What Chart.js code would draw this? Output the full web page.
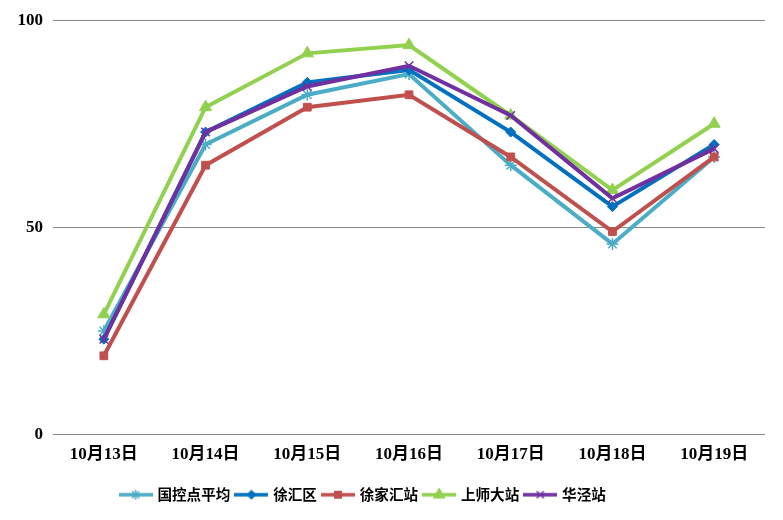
<!DOCTYPE html>
<html>
<head>
<meta charset="utf-8">
<script src="https://cdn.jsdelivr.net/npm/chart.js@4.4.1/dist/chart.umd.min.js"></script>
<style>
  html, body { margin: 0; padding: 0; background: #fff; }
  #wrap { width: 783px; height: 520px; }
</style>
</head>
<body>
<div id="wrap"><canvas id="chart" width="783" height="520"></canvas></div>
<script>
  const categories = ['10月13日', '10月14日', '10月15日', '10月16日', '10月17日', '10月18日', '10月19日'];
  const yTicks = [0, 50, 100];

  const guokong = [25, 70, 82, 87, 65, 46, 67];
  const xuhuiqu = [23, 73, 85, 88, 73, 55, 70];
  const xujiahui = [19, 65, 79, 82, 67, 49, 67];
  const shangshida = [29, 79, 92, 94, 77, 59, 75];
  const huajing = [23, 73, 84, 89, 77, 57, 69];

  const seriesNames = ['国控点平均', '徐汇区', '徐家汇站', '上师大站', '华泾站'];

  const labelFont = { family: "'Liberation Serif', 'Noto Sans CJK SC', serif", size: 17, weight: 'bold' };

  // little legend picture: line with marker in the middle
  function legendIcon(color, style, radius) {
    const c = document.createElement('canvas');
    c.width = 34;
    c.height = 14;
    const ctx = c.getContext('2d');
    ctx.strokeStyle = color;
    ctx.lineWidth = 3.5;
    ctx.beginPath();
    ctx.moveTo(0, 7);
    ctx.lineTo(34, 7);
    ctx.stroke();
    ctx.fillStyle = color;
    ctx.lineWidth = 1.5;
    Chart.helpers.drawPoint(ctx, { pointStyle: style, radius: radius, borderWidth: 1.5 }, 17, 7);
    if (style !== 'star' && style !== 'crossRot') ctx.fill();
    return c;
  }

  function makeSet(name, values, color, style, radius, order) {
    return {
      label: name,
      data: values,
      borderColor: color,
      backgroundColor: color,
      borderWidth: 4,
      pointStyle: style,
      pointRadius: radius,
      pointHoverRadius: radius,
      pointBorderWidth: style === 'star' || style === 'crossRot' ? 1.5 : 1,
      tension: 0,
      order: order,
      icon: legendIcon(color, style, radius - 1)
    };
  }

  const datasets = [
    makeSet(seriesNames[0], guokong, '#4BACC6', 'star', 6, 5),
    makeSet(seriesNames[1], xuhuiqu, '#0070C0', 'rectRot', 5, 4),
    makeSet(seriesNames[2], xujiahui, '#C0504D', 'rect', 5.5, 3),
    makeSet(seriesNames[3], shangshida, '#92D050', 'triangle', 7, 2),
    makeSet(seriesNames[4], huajing, '#7030A0', 'crossRot', 6, 1)
  ];

  // the legend in the original sits left of centre
  const legendShift = {
    id: 'legendShift',
    afterLayout(chart) {
      if (chart.legend) {
        chart.legend.left -= 19;
        chart.legend.right -= 19;
      }
    }
  };

  new Chart(document.getElementById('chart'), {
    type: 'line',
    data: { labels: categories, datasets: datasets },
    plugins: [legendShift],
    options: {
      responsive: false,
      animation: false,
      layout: { padding: { left: 0, right: 18, top: 12, bottom: 8 } },
      plugins: {
        tooltip: { enabled: false },
        legend: {
          position: 'bottom',
          labels: {
            usePointStyle: true,
            pointStyleWidth: 29,
            padding: 6.5,
            color: '#000',
            font: { family: "'Noto Sans CJK SC', sans-serif", size: 14.6, weight: 'bold' },
            generateLabels(chart) {
              return chart.data.datasets.map((ds, i) => ({
                text: ds.label,
                pointStyle: ds.icon,
                fillStyle: ds.borderColor,
                strokeStyle: ds.borderColor,
                lineWidth: 0,
                hidden: false,
                datasetIndex: i,
                fontColor: '#000'
              }));
            }
          }
        }
      },
      scales: {
        x: {
          offset: true,
          grid: { display: false },
          border: { display: false },
          afterFit(scale) {
            scale.height += 14;
          },
          ticks: { color: '#000', font: labelFont, padding: 2, maxRotation: 0 }
        },
        y: {
          min: 0,
          max: 100,
          afterBuildTicks(scale) {
            scale.ticks = yTicks.map((v) => ({ value: v }));
          },
          afterFit(scale) {
            scale.width = 53;
          },
          grid: { color: '#888', lineWidth: 1, drawTicks: false },
          border: { display: false },
          ticks: { color: '#000', font: labelFont, padding: 10 }
        }
      }
    }
  });
</script>
</body>
</html>
